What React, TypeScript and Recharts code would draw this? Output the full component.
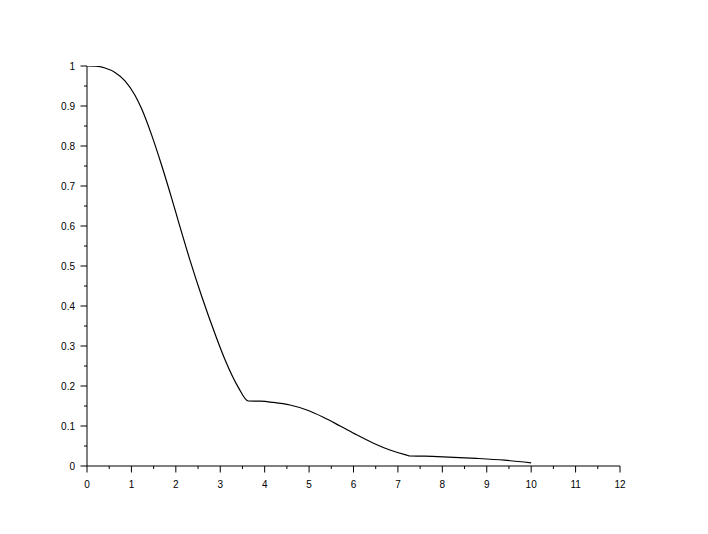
import React from "react";
import { LineChart, Line, XAxis, YAxis } from "recharts";

const xValues = [
  0, 0.2, 0.405, 0.63, 0.855, 1.08, 1.23, 1.46, 1.68, 1.91, 2.08, 2.32, 2.58, 2.9, 3.11, 3.41,
  3.63, 3.9, 4.19, 4.57, 4.95, 5.32, 5.7, 6.07, 6.45, 6.82, 7.2, 7.27, 7.6, 8.02, 8.77, 9.4, 10,
];
const yValues = [
  1, 0.9995, 0.995, 0.984, 0.963, 0.927, 0.893, 0.826, 0.752, 0.668, 0.603, 0.514, 0.425, 0.325,
  0.265, 0.196, 0.1625, 0.162, 0.159, 0.1525, 0.14, 0.122, 0.1, 0.078, 0.057, 0.04, 0.027, 0.025,
  0.0245, 0.023, 0.019, 0.0145, 0.008,
];

const xMajorTicks = [0, 1, 2, 3, 4, 5, 6, 7, 8, 9, 10, 11, 12];
const xMinorTicks = [0.5, 1.5, 2.5, 3.5, 4.5, 5.5, 6.5, 7.5, 8.5, 9.5, 10.5, 11.5];
const yMajorTicks = [0, 0.1, 0.2, 0.3, 0.4, 0.5, 0.6, 0.7, 0.8, 0.9, 1];
const yMinorTicks = [0.05, 0.15, 0.25, 0.35, 0.45, 0.55, 0.65, 0.75, 0.85, 0.95];

const data = xValues.map((x, i) => ({ x, y: yValues[i] }));

const font = "'Liberation Sans', Arial, sans-serif";

const XTick = (props: any) => {
  const { x, y, payload } = props;
  const major = xMajorTicks.includes(payload.value);
  return (
    <g>
      <line x1={x} y1={y} x2={x} y2={y + (major ? 6.5 : 3)} stroke="#000" strokeWidth={1} />
      {major && (
        <text x={x} y={y + 22} textAnchor="middle" fontSize={10} fontFamily={font} fill="#000">
          {payload.value}
        </text>
      )}
    </g>
  );
};

const YTick = (props: any) => {
  const { x, y, payload } = props;
  const major = yMajorTicks.includes(payload.value);
  return (
    <g>
      <line x1={x} y1={y} x2={x - (major ? 6.5 : 3)} y2={y} stroke="#000" strokeWidth={1} />
      {major && (
        <text x={x - 12} y={y + 3.6} textAnchor="end" fontSize={10} fontFamily={font} fill="#000">
          {payload.value}
        </text>
      )}
    </g>
  );
};

export default function App() {
  return (
    <LineChart width={692} height={518} data={data} margin={{ top: 58, right: 80, left: 39, bottom: 30 }}>
      <XAxis
        dataKey="x"
        type="number"
        domain={[0, 12]}
        ticks={[...xMajorTicks, ...xMinorTicks].sort((a, b) => a - b)}
        interval={0}
        tickSize={0}
        tickMargin={0}
        tickLine={false}
        tick={<XTick />}
        axisLine={{ stroke: "#000" }}
        height={30}
        allowDataOverflow
      />
      <YAxis
        type="number"
        domain={[0, 1]}
        ticks={[...yMajorTicks, ...yMinorTicks].sort((a, b) => a - b)}
        interval={0}
        tickSize={0}
        tickMargin={0}
        tickLine={false}
        tick={<YTick />}
        axisLine={{ stroke: "#000" }}
        width={40}
        allowDataOverflow
      />
      <Line
        type="monotone"
        dataKey="y"
        stroke="#000"
        strokeWidth={1.2}
        dot={false}
        isAnimationActive={false}
      />
    </LineChart>
  );
}
